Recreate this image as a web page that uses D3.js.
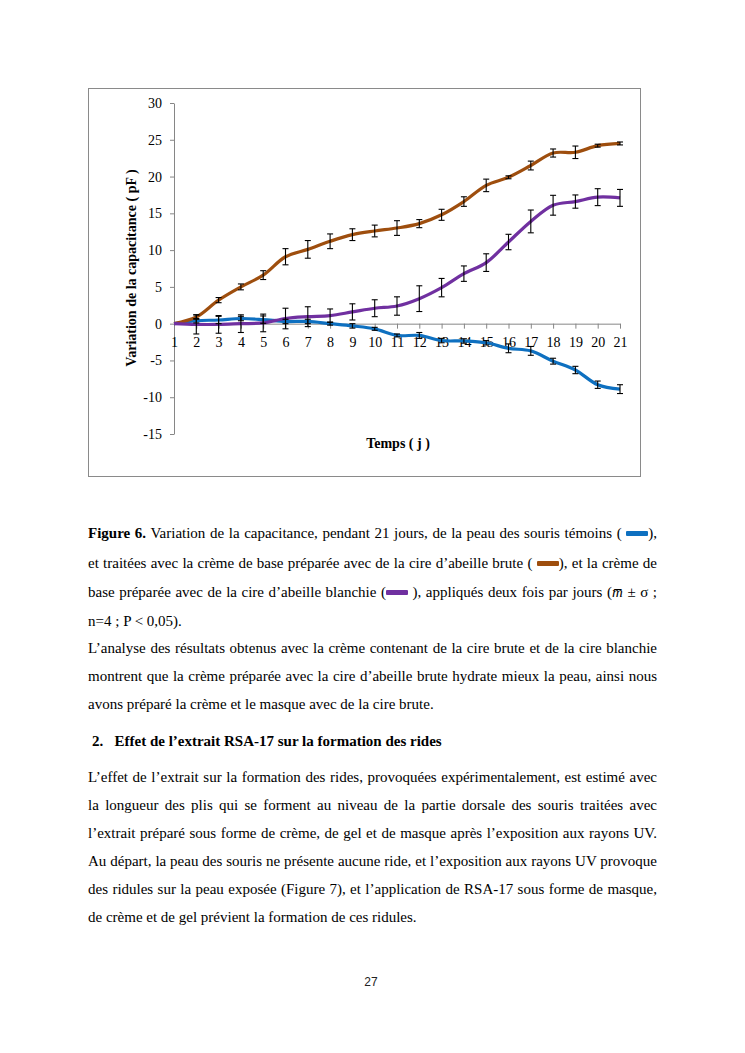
<!DOCTYPE html>
<html><head><meta charset="utf-8">
<script src="https://cdn.jsdelivr.net/npm/d3@7"></script>
<style>
body{margin:0;background:#fff;width:745px;height:1053px;position:relative;overflow:hidden;font-family:"Liberation Serif","Times New Roman",serif;color:#000}
.ln{position:absolute;left:88px;width:569px;font-size:15px;line-height:18px;white-space:nowrap}
.j{text-align:justify;text-align-last:justify;white-space:normal}
.sw{display:inline-block;width:22px;height:5px;border-radius:1px;vertical-align:2px}
</style></head><body>
<svg id="chart" width="745" height="500" style="position:absolute;left:0;top:0"></svg>

<div class="ln j" style="top:524px"><b>Figure 6.</b> Variation de la capacitance, pendant 21 jours, de la peau des souris témoins ( <span class="sw" style="background:#0e70c0"></span>),</div>
<div class="ln j" style="top:554px">et traitées avec la crème de base préparée avec de la cire d’abeille brute ( <span class="sw" style="background:#9e4e0e"></span>), et la crème de</div>
<div class="ln j" style="top:583px">base préparée avec de la cire d’abeille blanchie (<span class="sw" style="background:#7030a0"></span> ), appliqués deux fois par jours (<i>m̅</i> ± σ ;</div>
<div class="ln" style="top:612px">n=4 ; P &lt; 0,05).</div>

<div class="ln j" style="top:639px">L’analyse des résultats obtenus avec la crème contenant de la cire brute et de la cire blanchie</div>
<div class="ln j" style="top:667px">montrent que la crème préparée avec la cire d’abeille brute hydrate mieux la peau, ainsi nous</div>
<div class="ln" style="top:695px">avons préparé la crème et le masque avec de la cire brute.</div>

<div class="ln" style="top:732px;left:92px;font-weight:bold">2.&nbsp;&nbsp;&nbsp;Effet de l’extrait RSA-17 sur la formation des rides</div>

<div class="ln j" style="top:768px">L’effet de l’extrait sur la formation des rides, provoquées expérimentalement, est estimé avec</div>
<div class="ln j" style="top:796px">la longueur des plis qui se forment au niveau de la partie dorsale des souris traitées avec</div>
<div class="ln j" style="top:824px">l’extrait préparé sous forme de crème, de gel et de masque après l’exposition aux rayons UV.</div>
<div class="ln j" style="top:852px">Au départ, la peau des souris ne présente aucune ride, et l’exposition aux rayons UV provoque</div>
<div class="ln j" style="top:880px">des ridules sur la peau exposée (Figure 7), et l’application de RSA-17 sous forme de masque,</div>
<div class="ln" style="top:908px">de crème et de gel prévient la formation de ces ridules.</div>

<div style="position:absolute;left:0;width:742px;top:975px;text-align:center;font-family:'Liberation Sans',sans-serif;font-size:12px;color:#222">27</div>

<script>
const days = [1,2,3,4,5,6,7,8,9,10,11,12,13,14,15,16,17,18,19,20,21];
const yTicks = [-15,-10,-5,0,5,10,15,20,25,30];

const temoins     = [0,0.4,0.5,0.7,0.55,0.3,0.3,0,-0.3,-0.7,-1.6,-1.6,-2.3,-2.35,-2.6,-3.35,-3.7,-5.1,-6.3,-8.3,-8.9];
const temoinsErr  = [0,0.3,0.5,0.3,0.5,0.3,0.3,0.2,0.3,0.2,0.2,0.4,0.3,0.3,0.3,0.6,0.6,0.4,0.5,0.5,0.6];
const brute       = [0,0.9,3.2,5.0,6.6,9.1,10.1,11.2,12.1,12.6,13.0,13.6,14.8,16.6,18.8,19.9,21.5,23.2,23.3,24.2,24.5];
const bruteErr    = [0,0.3,0.35,0.4,0.6,1.1,1.2,1.0,0.8,0.8,1.0,0.55,0.75,0.65,0.85,0.2,0.6,0.55,0.85,0.2,0.2];
const blanchie    = [0,-0.1,-0.1,0,0.1,0.7,0.95,1.1,1.6,2.1,2.4,3.4,4.9,6.8,8.3,11.1,13.9,16.1,16.6,17.2,17.1];
const blanchieErr = [0,1.3,1.2,1.2,1.2,1.4,1.35,0.9,1.1,1.15,1.25,1.75,1.25,1.05,1.2,1.05,1.55,1.35,0.9,1.15,1.15];

const seriesList = [
  {name:"témoins", values:temoins, err:temoinsErr, color:"#0e70c0"},
  {name:"cire brute", values:brute, err:bruteErr, color:"#9e4e0e"},
  {name:"cire blanchie", values:blanchie, err:blanchieErr, color:"#7030a0"}
];

const svg = d3.select("#chart");
const font = "'Liberation Serif','Times New Roman',serif";

svg.append("rect").attr("x",88.5).attr("y",88.5).attr("width",552).attr("height",388)
  .attr("fill","#fff").attr("stroke","#8a8a8a").attr("stroke-width",1);

const x = d3.scalePoint().domain(days).range([174,620]);
const y = d3.scaleLinear().domain([-15,30]).range([434,103]);

const yAx = svg.append("g").attr("transform","translate(174,0)")
  .call(d3.axisLeft(y).tickValues(yTicks).tickFormat(d=>String(d)).tickSize(4).tickSizeOuter(0).tickPadding(8));
yAx.selectAll("path,line").attr("stroke","#868686");
yAx.selectAll("text").attr("font-family",font).attr("font-size",14).attr("fill","#000");

const xAx = svg.append("g").attr("transform",`translate(0,${y(0)})`)
  .call(d3.axisBottom(x).tickSize(5).tickSizeOuter(0).tickPadding(8));
xAx.selectAll("path,line").attr("stroke","#868686");
xAx.selectAll("text").attr("font-family",font).attr("font-size",14).attr("fill","#000");

svg.append("text").attr("transform","translate(136,268) rotate(-90)")
  .attr("text-anchor","middle").attr("font-family",font).attr("font-size",14).attr("font-weight","bold")
  .text("Variation de la capacitance ( pF )");
svg.append("text").attr("x",398).attr("y",448)
  .attr("text-anchor","middle").attr("font-family",font).attr("font-size",14).attr("font-weight","bold")
  .text("Temps ( j )");

const line = d3.line().x((d,i)=>x(days[i])).y(d=>y(d)).curve(d3.curveCatmullRom.alpha(0.5));

seriesList.forEach(s=>{
  svg.append("path").datum(s.values).attr("d",line).attr("fill","none")
    .attr("stroke",s.color).attr("stroke-width",3.2).attr("stroke-linejoin","round");
});

seriesList.forEach(s=>{
  const g = svg.append("g").attr("stroke","#000").attr("stroke-width",1.1);
  s.values.forEach((v,i)=>{
    const e = s.err[i]; if(!e) return;
    const cx = x(days[i]);
    g.append("line").attr("x1",cx).attr("x2",cx).attr("y1",y(v-e)).attr("y2",y(v+e));
    g.append("line").attr("x1",cx-3).attr("x2",cx+3).attr("y1",y(v-e)).attr("y2",y(v-e));
    g.append("line").attr("x1",cx-3).attr("x2",cx+3).attr("y1",y(v+e)).attr("y2",y(v+e));
  });
});
</script>
</body></html>
